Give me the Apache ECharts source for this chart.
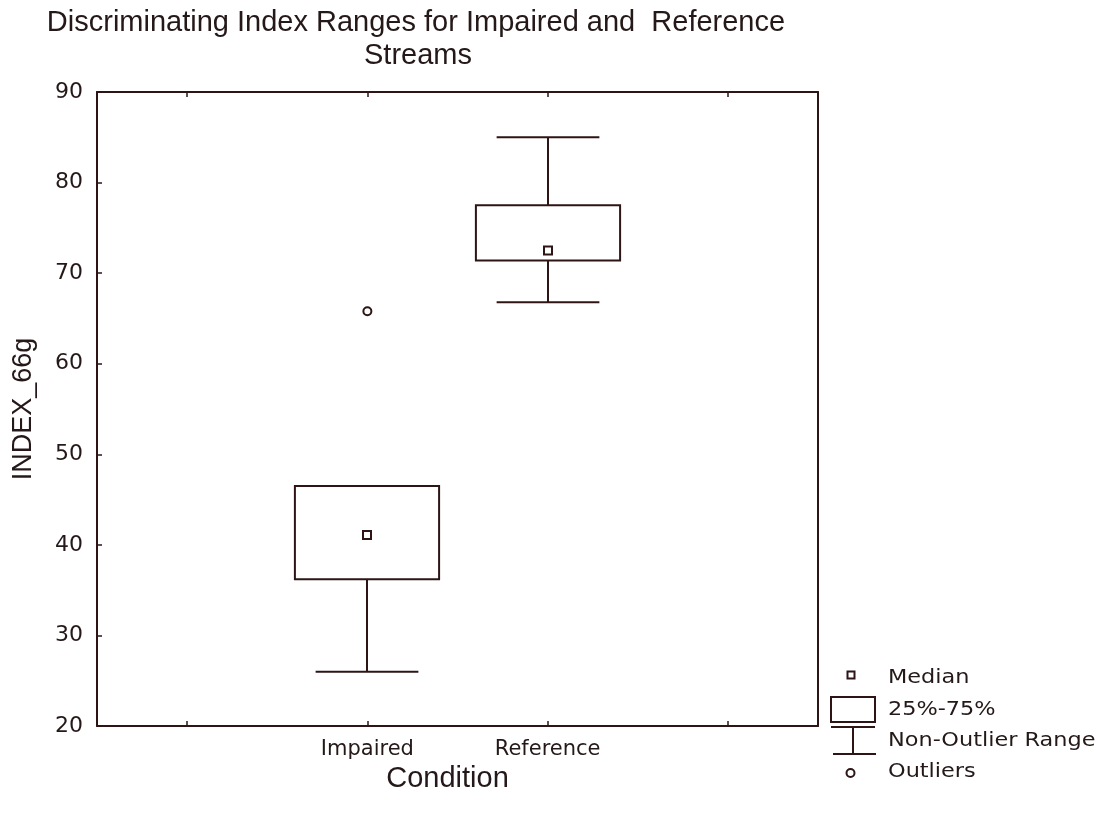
<!DOCTYPE html>
<html>
<head>
<meta charset="utf-8">
<script src="https://cdn.jsdelivr.net/npm/echarts@6/dist/echarts.min.js"></script>
<style>
  html, body { margin: 0; padding: 0; background: #ffffff; }
  #chart { width: 1104px; height: 813px; }
</style>
</head>
<body>
<div id="chart"></div>
<script>
// Category slots along the x axis (outer slots are empty padding positions)
const categories = ['', 'Impaired', 'Reference', ''];

// Box-plot summary per condition
const groups        = ['Impaired', 'Reference'];
const nonOutlierMin = [26.0, 66.8];
const quartile25    = [36.2, 71.4];
const medians       = [41.1, 72.5];
const quartile75    = [46.5, 77.5];
const nonOutlierMax = [46.5, 85.0];

// Outlying observations
const outlierGroups = ['Impaired'];
const outlierValues = [65.8];

// Value axis range and step
const yMin = 20;
const yMax = 90;
const yStep = 10;

const LINE = '#2e1414';
const TEXT = '#241818';
const LABEL_FONT = 'DejaVu Sans';
const TITLE_FONT = 'Liberation Sans';

const boxData = groups.map((g, i) => [
  categories.indexOf(g), nonOutlierMin[i], quartile25[i], medians[i], quartile75[i], nonOutlierMax[i]
]);
const outlierData = outlierGroups.map((g, i) => [categories.indexOf(g), outlierValues[i]]);

function renderBox(params, api) {
  const x = api.value(0);
  const pLow  = api.coord([x, api.value(1)]);
  const pQ1   = api.coord([x, api.value(2)]);
  const pMed  = api.coord([x, api.value(3)]);
  const pQ3   = api.coord([x, api.value(4)]);
  const pHigh = api.coord([x, api.value(5)]);
  const band = api.size([1, 0])[0];
  const boxW = band * 0.8;
  const capW = band * 0.57;
  const cx = Math.round(pMed[0]);
  const stroke = { stroke: LINE, lineWidth: 2, fill: null };
  const children = [
    { type: 'line', shape: { x1: cx, y1: pQ1[1], x2: cx, y2: pLow[1] }, style: stroke },
    { type: 'line', shape: { x1: cx - capW / 2, y1: pLow[1], x2: cx + capW / 2, y2: pLow[1] }, style: stroke },
    { type: 'line', shape: { x1: cx, y1: pQ3[1], x2: cx, y2: pHigh[1] }, style: stroke },
    { type: 'line', shape: { x1: cx - capW / 2, y1: pHigh[1], x2: cx + capW / 2, y2: pHigh[1] }, style: stroke },
    { type: 'rect', shape: { x: cx - boxW / 2, y: pQ3[1], width: boxW, height: pQ1[1] - pQ3[1] },
      style: { stroke: LINE, lineWidth: 2, fill: '#ffffff' } },
    { type: 'rect', shape: { x: cx - 4, y: pMed[1] - 4, width: 8, height: 8 },
      style: { stroke: LINE, lineWidth: 2, fill: '#ffffff' } }
  ];
  return { type: 'group', children };
}

// Legend captions are drawn slightly stretched to the wide legend lettering
const legendText = (y, text) => ({
  type: 'text', x: 888, y: y, scaleX: 1.12, originX: 0,
  style: { text, fill: TEXT, font: '20px "' + LABEL_FONT + '"', textVerticalAlign: 'middle', textAlign: 'left' }
});

const chart = echarts.init(document.getElementById('chart'), null, { renderer: 'canvas' });

chart.setOption({
  animation: false,
  backgroundColor: '#ffffff',
  grid: { left: 97, right: 286, top: 92, bottom: 87, containLabel: false },
  xAxis: [
    {
      type: 'category', data: categories, position: 'bottom', boundaryGap: true,
      axisLine: { show: true, lineStyle: { color: LINE, width: 2 } },
      axisTick: { show: true, inside: true, alignWithLabel: true, length: 5, lineStyle: { color: LINE, width: 1.5 } },
      axisLabel: { interval: 0, color: TEXT, fontFamily: LABEL_FONT, fontSize: 21, margin: 13 },
      splitLine: { show: false },
      name: 'Condition', nameLocation: 'middle', nameGap: 30,
      nameTextStyle: { color: TEXT, fontFamily: TITLE_FONT, fontSize: 29, padding: [0, 20, 0, 0] }
    },
    {
      type: 'category', data: categories, position: 'top', boundaryGap: true,
      axisLine: { show: true, lineStyle: { color: LINE, width: 2 } },
      axisTick: { show: true, inside: true, alignWithLabel: true, length: 5, lineStyle: { color: LINE, width: 1.5 } },
      axisLabel: { show: false },
      splitLine: { show: false }
    }
  ],
  yAxis: [
    {
      type: 'value', min: yMin, max: yMax, interval: yStep, position: 'left',
      axisLine: { show: true, lineStyle: { color: LINE, width: 2 } },
      axisTick: { show: true, inside: true, length: 5, lineStyle: { color: LINE, width: 1.5 } },
      axisLabel: { color: TEXT, fontFamily: LABEL_FONT, fontSize: 22, margin: 14 },
      splitLine: { show: false },
      name: 'INDEX_66g', nameLocation: 'middle', nameGap: 60,
      nameTextStyle: { color: TEXT, fontFamily: TITLE_FONT, fontSize: 27 }
    },
    {
      type: 'value', min: yMin, max: yMax, interval: yStep, position: 'right',
      axisLine: { show: true, lineStyle: { color: LINE, width: 2 } },
      axisTick: { show: false },
      axisLabel: { show: false },
      splitLine: { show: false }
    }
  ],
  series: [
    {
      type: 'custom', name: 'Box', xAxisIndex: 0, yAxisIndex: 0,
      renderItem: renderBox, data: boxData,
      encode: { x: 0, y: [1, 2, 3, 4, 5] }, z: 3
    },
    {
      type: 'scatter', name: 'Outliers', xAxisIndex: 0, yAxisIndex: 0,
      data: outlierData, symbol: 'circle', symbolSize: 8,
      itemStyle: { color: '#ffffff', borderColor: LINE, borderWidth: 2, opacity: 1 }, z: 4
    }
  ],
  graphic: [
    { type: 'text', x: 416, y: 23, style: { text: 'Discriminating Index Ranges for Impaired and  Reference', fill: TEXT, font: '29px "' + TITLE_FONT + '"', textAlign: 'center', textVerticalAlign: 'middle' } },
    { type: 'text', x: 418, y: 56, style: { text: 'Streams', fill: TEXT, font: '29px "' + TITLE_FONT + '"', textAlign: 'center', textVerticalAlign: 'middle' } },

    // legend symbols
    { type: 'rect', shape: { x: 847.5, y: 671.5, width: 7, height: 7 }, style: { stroke: LINE, lineWidth: 2, fill: '#ffffff' } },
    { type: 'rect', shape: { x: 831, y: 697, width: 44, height: 25 }, style: { stroke: LINE, lineWidth: 2, fill: '#ffffff' } },
    { type: 'line', shape: { x1: 831, y1: 727, x2: 875, y2: 727 }, style: { stroke: LINE, lineWidth: 2 } },
    { type: 'line', shape: { x1: 853, y1: 727, x2: 853, y2: 754 }, style: { stroke: LINE, lineWidth: 2 } },
    { type: 'line', shape: { x1: 833, y1: 754, x2: 876, y2: 754 }, style: { stroke: LINE, lineWidth: 2 } },
    { type: 'circle', shape: { cx: 850.5, cy: 773, r: 4 }, style: { stroke: LINE, lineWidth: 2, fill: '#ffffff' } },

    legendText(678, 'Median'),
    legendText(710, '25%-75%'),
    legendText(741, 'Non-Outlier Range'),
    legendText(772, 'Outliers')
  ]
});
</script>
</body>
</html>
